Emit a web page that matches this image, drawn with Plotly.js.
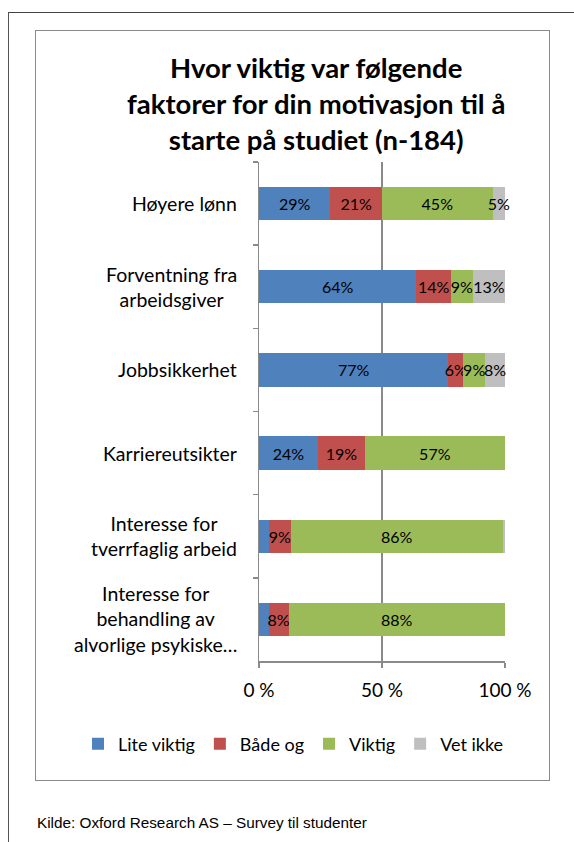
<!DOCTYPE html>
<html>
<head>
<meta charset="utf-8">
<script src="https://cdn.plot.ly/plotly-3.0.1.min.js"></script>
<style>
  html, body { margin: 0; padding: 0; background: #fff; }
  #wrap { position: relative; width: 574px; height: 842px; overflow: hidden; }
  #outer { position: absolute; left: 8px; top: 12px; width: 600px; height: 900px;
           border-top: 1.5px solid #444; border-left: 1.5px solid #555; box-sizing: border-box; }
  #inner { position: absolute; left: 35px; top: 30px; width: 515px; height: 751px;
           border: 1.5px solid #8a8a8a; box-sizing: border-box; }
  #chart { position: absolute; left: 0; top: 0; width: 574px; height: 842px; }
</style>
</head>
<body>
<div id="wrap">
  <div id="outer"></div>
  <div id="inner"></div>
  <div id="chart"></div>
</div>
<script>
// ---- data ----
const categories = [
  "Høyere lønn",
  "Forventning fra<br>arbeidsgiver",
  "Jobbsikkerhet",
  "Karriereutsikter",
  "Interesse for<br>tverrfaglig arbeid",
  "Interesse for<br>behandling av<br>alvorlige psykiske…"
];
const seriesNames = ["Lite viktig", "Både og", "Viktig", "Vet ikke"];
const liteViktig = [29, 64, 77, 24, 4, 4];
const badeOg     = [21, 14, 6, 19, 9, 8];
const viktig     = [45, 9, 9, 57, 86, 88];
const vetIkke    = [5, 13, 8, 0, 1, 0];
const seriesColors = ["#4F81BD", "#C0504D", "#9BBB59", "#BFBFBF"];
const xTickVals = [0, 50, 100];
const xTickText = ["0 %", "50 %", "100 %"];
const titleText = "Hvor viktig var følgende<br>faktorer for din motivasjon til å<br>starte på studiet (n-184)";
const sourceText = "Kilde: Oxford Research AS – Survey til studenter";

const FONT = "Lato, 'Open Sans', sans-serif";
const allSeries = [liteViktig, badeOg, viktig, vetIkke];

const traces = allSeries.map((vals, i) => ({
  type: "bar",
  orientation: "h",
  name: seriesNames[i],
  y: categories,
  x: vals,
  text: vals.map(v => (v >= 5 ? v + "%" : "")),
  textposition: "inside",
  insidetextanchor: "middle",
  constraintext: "none",
  textangle: 0,
  cliponaxis: false,
  textfont: { family: FONT, size: 16, color: "#000" },
  marker: { color: seriesColors[i], line: { width: 0 } },
  hoverinfo: "skip"
}));

const L = 259, R = 505, T = 162, B = 661;
const pw = R - L, ph = B - T;
const px = p => (p - L) / pw;
const py = p => (B - p) / ph;

const annotations = categories.map(c => ({
  x: px(239), xref: "paper", xanchor: "right",
  y: c, yref: "y", yanchor: "middle",
  text: c, showarrow: false, align: "center",
  font: { family: FONT, size: 19.5, color: "#000" }
}));
annotations.push({
  x: px(316), xref: "paper", xanchor: "center",
  y: py(103), yref: "paper", yanchor: "middle",
  text: "<b>" + titleText + "</b>", showarrow: false, align: "center",
  font: { family: FONT, size: 27.5, color: "#000" }
});
annotations.push({
  x: px(35), xref: "paper", xanchor: "left",
  y: py(822), yref: "paper", yanchor: "middle",
  text: sourceText, showarrow: false, align: "left",
  font: { family: "'Liberation Sans Narrow', 'Arial Narrow', sans-serif", size: 15.3, color: "#000" }
});

const layout = {
  width: 574, height: 842,
  margin: { l: L, r: 574 - R, t: T, b: 842 - B, pad: 0 },
  paper_bgcolor: "rgba(0,0,0,0)",
  plot_bgcolor: "rgba(0,0,0,0)",
  barmode: "stack",
  bargap: 0.6,
  showlegend: true,
  legend: {
    orientation: "h",
    xref: "paper", yref: "paper",
    x: px(78), xanchor: "left",
    y: py(744), yanchor: "middle",
    font: { family: FONT, size: 18, color: "#000" },
    itemwidth: 30,
    traceorder: "normal"
  },
  xaxis: {
    range: [0, 100],
    tickvals: xTickVals, ticktext: xTickText,
    showgrid: true, gridcolor: "#8a8a8a", gridwidth: 1.5,
    showline: true, linecolor: "#8a8a8a", linewidth: 1.5,
    ticks: "outside", ticklen: 5, tickcolor: "#8a8a8a", tickwidth: 1.5,
    ticklabelstandoff: 7,
    zeroline: false,
    tickfont: { family: FONT, size: 19, color: "#000" },
    fixedrange: true
  },
  yaxis: {
    type: "category",
    autorange: "reversed",
    showticklabels: false,
    tickson: "boundaries",
    ticks: "outside", ticklen: 5, tickcolor: "#8a8a8a", tickwidth: 1.5,
    showline: true, linecolor: "#8a8a8a", linewidth: 1.5,
    showgrid: false, zeroline: false,
    fixedrange: true
  },
  annotations: annotations,
  font: { family: FONT }
};

Plotly.newPlot("chart", traces, layout, { staticPlot: true, displayModeBar: false });
</script>
</body>
</html>
